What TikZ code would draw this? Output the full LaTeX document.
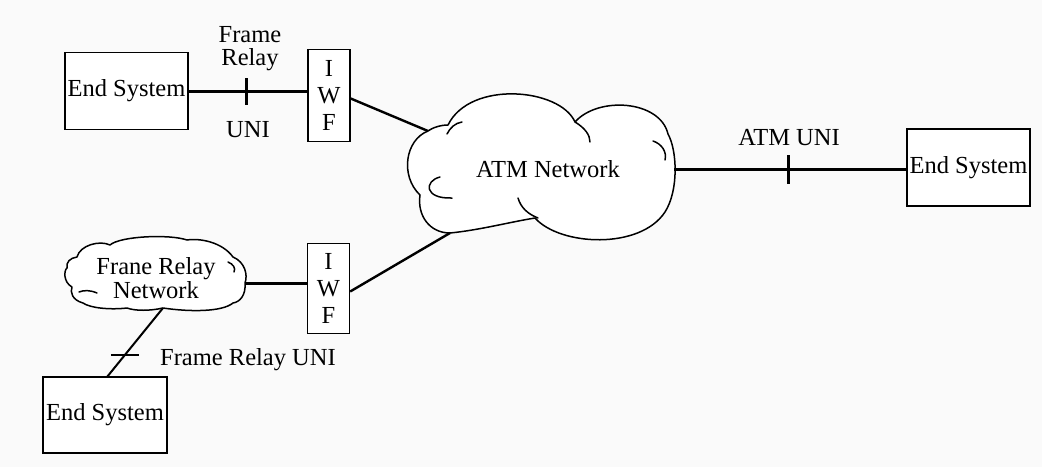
\documentclass[tikz,border=0pt]{standalone}
\usepackage{fontspec}
\setmainfont{Liberation Serif}
\begin{document}
\begin{tikzpicture}[x=1pt,y=-1pt,
  every node/.style={font=\fontsize{24.5}{27}\selectfont},
  box/.style={draw, line width=1.4pt, fill=white, inner sep=0pt},
  lbl/.style={inner sep=0pt, align=center},
  link/.style={line width=3pt},
  slant/.style={line width=2.4pt},
  cloudline/.style={line width=1.5pt, line join=round, line cap=round},
  tick/.style={line width=3pt}]
% page background
\fill[black!2] (0,0) rectangle (1042,467);
\useasboundingbox (0,0) rectangle (1042,467);

% boxes
\node[box, minimum width=123pt, minimum height=77pt] (es1) at (126.5,91) {End System};
\node[box, minimum width=123pt, minimum height=77pt] (es2) at (968.5,167.5) {End System};
\node[box, minimum width=124pt, minimum height=76pt] (es3) at (105,415) {End System};
\node[box, minimum width=42pt, minimum height=92pt, align=center,
      font=\fontsize{24.5}{27}\selectfont] (iwf1) at (329,95.5) {I\\W\\F};
\node[box, minimum width=42pt, minimum height=90pt, align=center,
      font=\fontsize{24.5}{27}\selectfont] (iwf2) at (328.5,288.5) {I\\W\\F};

% ATM cloud
\filldraw[cloudline, fill=white]
  (428,131) .. controls (405,140) and (400,176) .. (420,195)
  .. controls (417,216) and (430,233) .. (450,233)
  .. controls (480,230) and (510,222) .. (535,218)
  .. controls (560,246) and (640,250) .. (665,212)
  .. controls (679,190) and (677,150) .. (668,134)
  .. controls (660,100) and (598,96) .. (575,122)
  .. controls (560,88) and (470,80) .. (448,125)
  .. controls (440,125) and (432,128) .. (428,131) -- cycle;
\draw[cloudline] (575,122) .. controls (585,128) and (590,135) .. (590,142);
\draw[cloudline] (447,134) .. controls (450,128) and (455,123) .. (462,122);
\draw[cloudline] (653,141) .. controls (662,144) and (667,152) .. (665,160);
\draw[cloudline] (440,177) .. controls (424,181) and (424,199) .. (452,198);
\draw[cloudline] (518,198) .. controls (521,208) and (528,214) .. (538,218);
\node[lbl, anchor=base] (atm) at (548,177) {ATM Network};
\coordinate (atmNW) at (428,131);
\coordinate (atmSW) at (450,233);
\coordinate (atmE) at (674,169);

% Frame Relay cloud
\filldraw[cloudline, fill=white]
  (77,257) .. controls (80,245) and (100,240) .. (110,245)
  .. controls (120,236) and (170,234) .. (187,240)
  .. controls (200,238) and (222,242) .. (233,257)
  .. controls (245,262) and (248,275) .. (245,283)
  .. controls (246,295) and (240,302) .. (233,303)
  .. controls (222,312) and (190,312) .. (163,308)
  .. controls (150,311) and (135,311) .. (127,308)
  .. controls (110,310) and (90,308) .. (83,303)
  .. controls (72,300) and (70,292) .. (72,287)
  .. controls (63,282) and (64,270) .. (67,268)
  .. controls (66,262) and (70,258) .. (77,257) -- cycle;
\draw[cloudline] (228,262) .. controls (233,264) and (236,268) .. (234,272);
\draw[cloudline] (97,293) .. controls (90,290) and (84,290) .. (79,292);
\node[lbl, font=\fontsize{24.5}{22}\selectfont] (frn) at (156,278) {Frane Relay\\Network};
\coordinate (frnE) at (245,283);
\coordinate (frnS) at (163,308);

% connectors
\draw[link] (es1.east) -- coordinate[pos=0.49] (t1) (es1.east -| iwf1.west);
\draw[tick] ([yshift=-13.5pt]t1) -- ([yshift=13.5pt]t1);
\draw[slant] ([yshift=-3pt]iwf1.east) -- (atmNW);

\draw[link] (frnE) -- (frnE -| iwf2.west);
\draw[slant] ([yshift=-3pt]iwf2.east) -- (atmSW);

\draw[link] (atmE) -- coordinate[pos=0.494] (t2) (atmE -| es2.west);
\draw[tick] ([yshift=-14.5pt]t2) -- ([yshift=14.5pt]t2);

\draw[line width=2pt] (frnS) -- coordinate[pos=0.68] (t3) (107,377);
\draw[line width=2.4pt] ([xshift=-14pt]t3) -- ([xshift=14pt]t3);

% interface labels
\node[lbl, font=\fontsize{24.5}{23}\selectfont] (lfr) at (250,49) {Frame\\Relay};
\node[lbl, anchor=base] (luni) at (248,137) {UNI};
\node[lbl, anchor=base] (latm) at (789,145) {ATM UNI};
\node[lbl, anchor=base west] (lfru) at (160,365) {Frame Relay UNI};
\end{tikzpicture}
\end{document}
